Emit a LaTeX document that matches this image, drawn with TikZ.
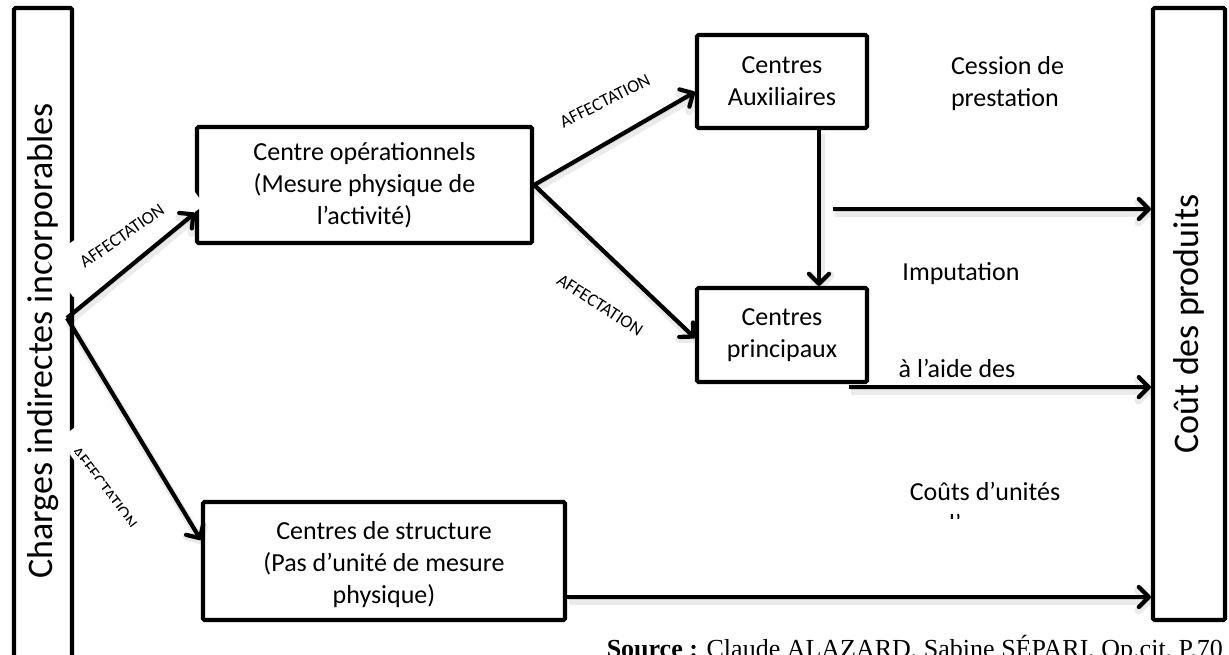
\documentclass[tikz,border=0pt]{standalone}
\usepackage{graphicx}
\usepackage{fontspec}
\setmainfont{Carlito}
\newfontfamily\srcfont{Liberation Serif}
\usetikzlibrary{arrows.meta,calc}

\begin{document}
\begin{tikzpicture}[x=1pt,y=-1pt,
  box/.style={draw, line width=4.2pt, rounded corners=1.5pt, align=center,
              font=\fontsize{26}{32}\selectfont, inner sep=0pt},
  tall/.style={box, font=\fontsize{36}{42}\selectfont},
  lbl/.style={font=\fontsize{26}{32}\selectfont, inner sep=0pt},
  tag/.style={font=\fontsize{18}{20}\selectfont, inner sep=0pt},
  link/.style={line width=4.2pt, -{Straight Barb[length=10pt,width=20pt,round]},
               preaction={draw=black, draw opacity=0.08, line width=8pt,
                          transform canvas={shift={(1.5,3.5)}}},
               preaction={draw=black, draw opacity=0.12,
                          transform canvas={shift={(1,2.5)}}}},
]
\useasboundingbox (0,0) rectangle (1229,654);
\fill[white] (0,0) rectangle (1229,654);

% side bars
\node (lb) [tall, minimum width=58, minimum height=666] at (43,341)
  {\rotatebox{90}{Charges indirectes incorporables}};
\node (cp) [tall, minimum width=72, minimum height=612] at (1189,314)
  {\rotatebox{90}{Coût des produits\hspace*{20pt}}};

% centres
\node (op) [box, minimum width=335, minimum height=116] at (364.5,185)
  {Centre opérationnels\\(Mesure physique de\\l’activité)};
\node (aux) [box, minimum width=170, minimum height=93] at (782,81.5)
  {Centres\\Auxiliaires};
\node (pr) [box, minimum width=170, minimum height=94] at (782,335)
  {Centres\\principaux};
\node (st) [box, minimum width=362, minimum height=118] at (384,561) {};
\begin{scope}
  \clip (st.north west) rectangle ($(st.south east)+(0,-15)$);
  \node (sttext) [lbl, align=center] at (384,565)
    {Centres de structure\\(Pas d’unité de mesure\\physique)};
\end{scope}

% side texts
\node (cession) [lbl, align=left] at (1007.5,84) {Cession de\\prestation};
\node (imput) [lbl, anchor=base] at (961,280) {Imputation};
\node (aide) [lbl, anchor=base] at (957,377) {à l’aide des};
\node (couts) [lbl, anchor=base] at (985,500) {Coûts d’unités};
\begin{scope}
  \clip (880,470) rectangle (1090,518);
  \node (oeuvre) [lbl, anchor=base] at (985,532) {d’œuvre};
\end{scope}

% labels on the arrows
\begin{scope}[shift={(122,236)}, rotate=35]
  \fill[white] (-75,-24) rectangle (85,22);
  \node (tagA) [tag, transform shape] at (0,0) {AFFECTATION};
\end{scope}
\begin{scope}[shift={(104,488)}, rotate=-53]
  \fill[white] (-66,-20) rectangle (60,7);
  \clip (-66,-20) rectangle (60,2);
  \node (tagB) [tag, transform shape] at (0,0) {AFFECTATION};
\end{scope}
\node (tagC) [tag, rotate=26.6] at (605,101) {AFFECTATION};
\node (tagD) [tag, rotate=-33] at (600,305) {AFFECTATION};

% connectors
\coordinate (J) at (67,318);
\draw[link] (J) -- ($(op.west)+(0,28)$);
\draw[link] (J) -- ($(st.west)+(0,-21)$);
\draw[link] (op.east) -- ($(aux.west)+(0,10.5)$);
\draw[link] (op.east) -- ($(pr.west)+(0,3)$);
\draw[link] ($(aux.south)+(37,0)$) -- ($(pr.north)+(37,0)$);
\coordinate (c1) at (833,209);
\draw[link] (c1) -- (c1 -| cp.west);
\coordinate (c2) at ($(pr.south east)+(-20,3)$);
\draw[link] (c2) -- (c2 -| cp.west);
\coordinate (c3) at ($(st.east)+(0,36)$);
\draw[link] (c3) -- (c3 -| cp.west);

% source line, partly below the lower edge
\node (src) [anchor=base east, inner sep=0pt,
             font=\srcfont\fontsize{26}{30}\selectfont] at (1223,657)
  {\textbf{Source :} Claude ALAZARD, Sabine SÉPARI, Op.cit, P.70};
\end{tikzpicture}
\end{document}
